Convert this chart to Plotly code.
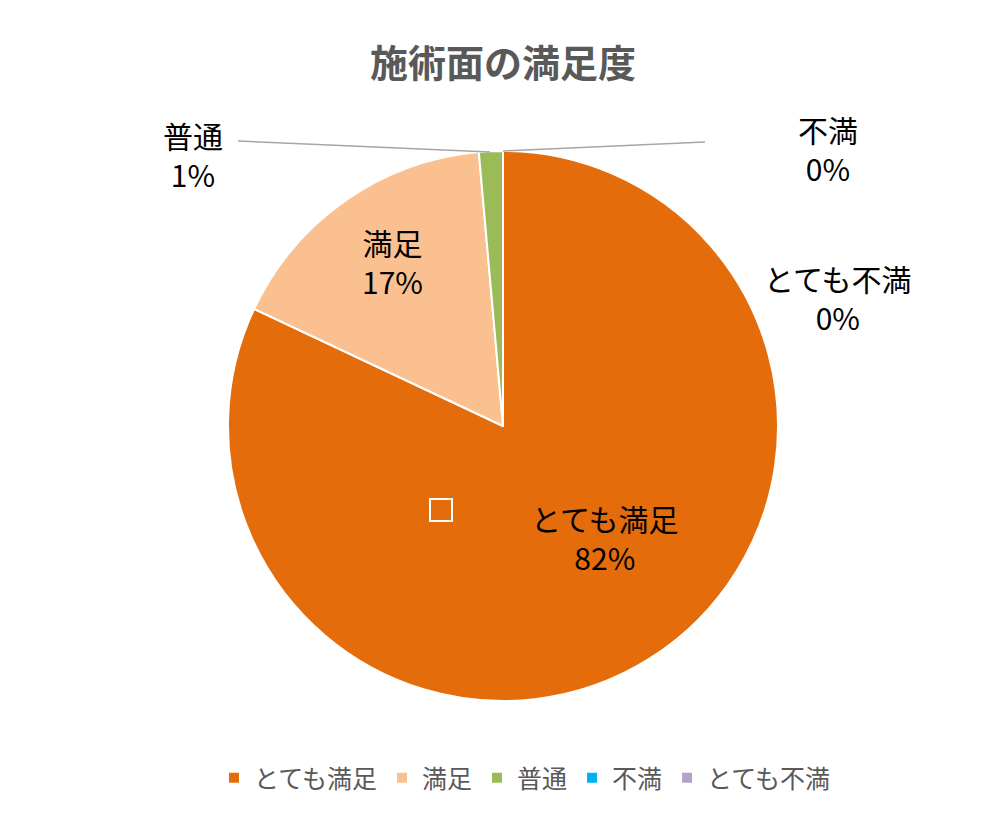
import plotly.graph_objects as go

labels = ["とても満足", "満足", "普通", "不満", "とても不満"]
values = [82.0, 16.6, 1.4, 0.0, 0.0]
pct_text = ["82%", "17%", "1%", "0%", "0%"]
colors = ["#E46C0A", "#FAC090", "#9BBB59", "#00B0F0", "#B3A2C7"]

W, H = 990, 819
OFF = 8
def px(x): return (x - OFF) / W
def py(y): return 1 - (y - OFF) / H

fig = go.Figure(go.Pie(
    labels=labels, values=values, sort=False, direction="clockwise", rotation=0,
    marker=dict(colors=colors, line=dict(color="white", width=2)),
    textinfo="none", hoverinfo="label+percent",
    domain=dict(x=[px(228), px(778)], y=[py(701), py(151)]),
))

font = "Noto Sans CJK JP"
pos = [(605, 537), (392, 261), (193, 154), (828, 148), (838, 297)]
ann = []
for (x, y), lab, t in zip(pos, labels, pct_text):
    ann.append(dict(x=px(x), y=py(y), xref="paper", yref="paper", showarrow=False,
                    xanchor="center", yanchor="middle",
                    text=f"{lab}<br>{t}", font=dict(family=font, size=30, color="black"),
                    align="center"))
ann.append(dict(x=px(503), y=py(60), xref="paper", yref="paper", showarrow=False,
                xanchor="center", yanchor="middle",
                text="<b>施術面の満足度</b>", font=dict(family=font, size=38, color="#595959")))

shapes = [
    dict(type="rect", xref="paper", yref="paper", x0=px(2), x1=px(1004), y0=py(833), y1=py(2),
         line=dict(color="#D9D9D9", width=1.5)),
    dict(type="line", xref="paper", yref="paper", x0=px(238), y0=py(141), x1=px(490), y1=py(152),
         line=dict(color="#A6A6A6", width=1.5)),
    dict(type="line", xref="paper", yref="paper", x0=px(503), y0=py(151), x1=px(705), y1=py(142),
         line=dict(color="#A6A6A6", width=1.5)),
    dict(type="rect", xref="paper", yref="paper", x0=px(430), x1=px(452), y0=py(521), y1=py(499),
         line=dict(color="white", width=2)),
]

fig.update_layout(
    width=W, height=H, margin=dict(l=0, r=0, t=0, b=0),
    paper_bgcolor="white", annotations=ann, shapes=shapes,
    legend=dict(orientation="h", x=px(525), xanchor="center", y=py(778), yanchor="middle",
                font=dict(family=font, size=25, color="#595959")),
)
fig.write_html("out.html")
